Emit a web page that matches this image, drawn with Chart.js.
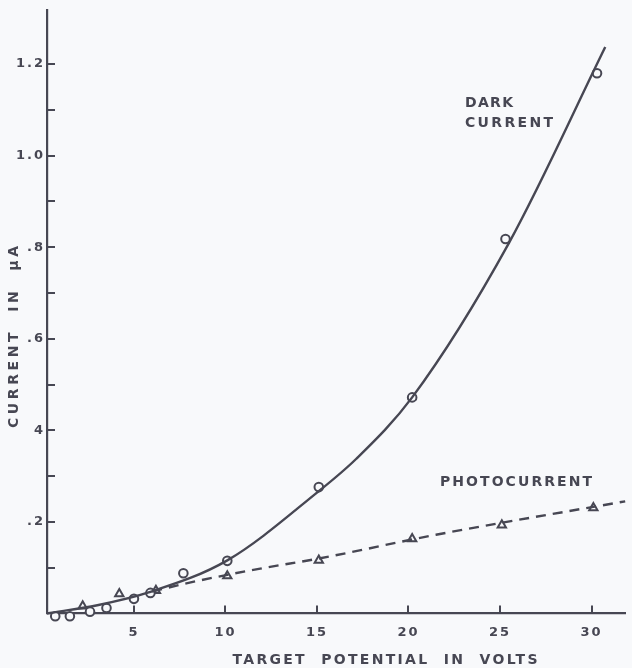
<!DOCTYPE html>
<html>
<head>
<meta charset="utf-8">
<script src="https://cdn.jsdelivr.net/npm/chart.js@4/dist/chart.umd.min.js"></script>
<style>
  html, body { margin: 0; padding: 0; background: #f8f9fb; }
  canvas { display: block; }
</style>
</head>
<body>
<canvas id="chart" width="632" height="668"></canvas>
<script>
// Measured dark current (circles), volts vs microamperes
const darkVolts   = [0.7, 1.5, 2.6, 3.5, 5.0, 5.9, 7.7, 10.1, 15.1, 20.2, 25.3, 30.3];
const darkCurrent = [-0.006, -0.006, 0.004, 0.012, 0.032, 0.045, 0.088, 0.115, 0.276, 0.472, 0.818, 1.18];

// Measured photocurrent (triangles)
const photoVolts   = [2.2, 4.2, 6.2, 10.1, 15.1, 20.2, 25.1, 30.1];
const photoCurrent = [0.016, 0.043, 0.05, 0.082, 0.116, 0.163, 0.193, 0.231];

// Smooth curve drawn through the dark-current points
const darkCurveVolts   = [0.25, 3.0, 5.8, 10.1, 15.0, 17.15, 20.2, 25.5, 30.75];
const darkCurveCurrent = [0.0, 0.018, 0.046, 0.116, 0.264, 0.338, 0.472, 0.81, 1.237];

// Dashed line through the photocurrent points
const photoLineVolts   = [6.0, 8.1, 11.9, 15.1, 21.5, 31.84];
const photoLineCurrent = [0.048, 0.068, 0.098, 0.12, 0.172, 0.245];

// Axis ticks
const xTickValues  = [5, 10, 15, 20, 25, 30];
const yTickValues  = [0.2, 0.4, 0.6, 0.8, 1.0, 1.2];
const yTickLabels  = ['.2', '4', '.6', '.8', '1.0', '1.2'];
const yMinorValues = [0.1, 0.3, 0.5, 0.7, 0.9, 1.1];

const INK = '#474753';
const FONT = '"DejaVu Sans", "Liberation Sans", sans-serif';

const toPoints = (xs, ys) => xs.map((v, i) => ({ x: v, y: ys[i] }));

// Draws text spread with letter spacing so that it spans the given width
function spacedText(ctx, text, x, y, width, align) {
  ctx.letterSpacing = '0px';
  const natural = ctx.measureText(text).width;
  const gap = Math.max(0, (width - natural) / (text.length - 1));
  ctx.letterSpacing = gap + 'px';
  ctx.textAlign = 'left';
  const start = align === 'center' ? x - width / 2 : x;
  ctx.fillText(text, start, y);
  ctx.letterSpacing = '0px';
}

// Inward tick marks, curve captions and axis titles
const decorations = {
  id: 'decorations',
  beforeDraw(chart) {
    chart.ctx.letterSpacing = '2px';
  },
  afterDraw(chart) {
    const { ctx, scales: { x, y } } = chart;
    ctx.save();
    ctx.letterSpacing = '0px';
    ctx.strokeStyle = INK;
    ctx.lineWidth = 2;
    [...yTickValues, ...yMinorValues].forEach(v => {
      const py = Math.round(y.getPixelForValue(v));
      ctx.beginPath();
      ctx.moveTo(x.left, py);
      ctx.lineTo(x.left + 8, py);
      ctx.stroke();
    });
    xTickValues.forEach(v => {
      const px = Math.round(x.getPixelForValue(v));
      ctx.beginPath();
      ctx.moveTo(px, y.bottom);
      ctx.lineTo(px, y.bottom - 8);
      ctx.stroke();
    });

    ctx.fillStyle = INK;
    ctx.textBaseline = 'alphabetic';

    // curve captions
    ctx.font = 'bold 14px ' + FONT;
    spacedText(ctx, 'DARK', 465, 107, 48, 'left');
    spacedText(ctx, 'CURRENT', 465, 127, 88, 'left');
    spacedText(ctx, 'PHOTOCURRENT', 440, 486, 152, 'left');

    // x axis title
    spacedText(ctx, 'TARGET  POTENTIAL  IN  VOLTS', 385, 664, 305, 'center');

    // y axis title
    ctx.save();
    ctx.translate(18, 337);
    ctx.rotate(-Math.PI / 2);
    spacedText(ctx, 'CURRENT  IN  μA', 0, 0, 182, 'center');
    ctx.restore();

    ctx.restore();
  }
};

new Chart(document.getElementById('chart'), {
  type: 'scatter',
  data: {
    datasets: [
      {
        label: 'Dark current fit',
        data: toPoints(darkCurveVolts, darkCurveCurrent),
        showLine: true,
        borderColor: INK,
        borderWidth: 2.4,
        pointRadius: 0,
        cubicInterpolationMode: 'monotone',
        fill: false
      },
      {
        label: 'Photocurrent fit',
        data: toPoints(photoLineVolts, photoLineCurrent),
        showLine: true,
        borderColor: INK,
        borderWidth: 2.4,
        borderDash: [10, 7],
        pointRadius: 0,
        cubicInterpolationMode: 'monotone',
        fill: false
      },
      {
        label: 'Dark current',
        data: toPoints(darkVolts, darkCurrent),
        pointStyle: 'circle',
        pointRadius: 4.3,
        pointBorderWidth: 2,
        pointBorderColor: INK,
        pointBackgroundColor: '#f8f9fb'
      },
      {
        label: 'Photocurrent',
        data: toPoints(photoVolts, photoCurrent),
        pointStyle: 'triangle',
        pointRadius: 4.8,
        pointBorderWidth: 2,
        pointBorderColor: INK,
        pointBackgroundColor: '#f8f9fb'
      }
    ]
  },
  options: {
    responsive: false,
    animation: false,
    clip: false,
    layout: { padding: { top: 10, right: 0, left: 0, bottom: 0 } },
    plugins: { legend: { display: false }, tooltip: { enabled: false } },
    scales: {
      x: {
        type: 'linear',
        min: 0.25,
        max: 31.84,
        afterBuildTicks: s => { s.ticks = xTickValues.map(v => ({ value: v })); },
        afterFit: s => { s.height = 54.5; },
        grid: { display: false, drawTicks: false },
        border: { display: true, color: INK, width: 2.2 },
        ticks: {
          color: INK,
          padding: 11,
          maxRotation: 0,
          font: { family: FONT, size: 13, weight: 'bold' }
        }
      },
      y: {
        type: 'linear',
        min: 0,
        max: 1.318,
        afterBuildTicks: s => { s.ticks = yTickValues.map(v => ({ value: v })); },
        afterFit: s => { s.width = 47; },
        grid: { display: false, drawTicks: false },
        border: { display: true, color: INK, width: 2.2 },
        ticks: {
          color: INK,
          padding: 2,
          font: { family: FONT, size: 13, weight: 'bold' },
          callback: v => {
            const i = yTickValues.findIndex(t => Math.abs(t - v) < 1e-6);
            return i >= 0 ? yTickLabels[i] : '';
          }
        }
      }
    }
  },
  plugins: [decorations]
});
</script>
</body>
</html>
